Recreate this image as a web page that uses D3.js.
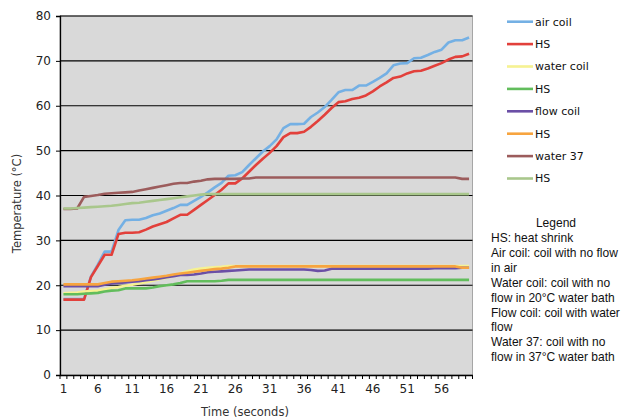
<!DOCTYPE html>
<html><head><meta charset="utf-8">
<script src="https://cdn.jsdelivr.net/npm/d3@7"></script>
<style>body{margin:0;background:#fff}svg{display:block}</style>
</head><body>
<svg id="c" width="627" height="420"></svg>
<script>
const time = d3.range(1, 61);
const tickLabels = [1, 6, 11, 16, 21, 26, 31, 36, 41, 46, 51, 56];
const yTicks = [0, 10, 20, 30, 40, 50, 60, 70, 80];
const seriesNames = ["air coil", "HS", "water coil", "HS", "flow coil", "HS", "water 37", "HS"];
const seriesColors = ["#74b0e4", "#e2403b", "#f6f292", "#62bd5c", "#6b4fa6", "#f7a43f", "#9c5c5c", "#a9c78c"];

const airCoil = [16.9,16.9,16.9,16.9,21.9,24.6,27.5,27.5,32.3,34.5,34.6,34.6,35.0,35.6,36.0,36.6,37.2,37.9,37.9,38.8,
  39.7,40.7,41.8,42.8,44.4,44.5,45.2,46.8,48.3,49.8,51.0,52.5,55.0,55.9,55.9,56.0,57.5,58.5,59.7,61.3,
  63.0,63.5,63.5,64.5,64.5,65.3,66.2,67.2,69.0,69.4,69.5,70.6,70.7,71.3,72.0,72.5,74.1,74.6,74.6,75.2];
const hsAir = [16.8,16.8,16.8,16.8,21.8,24.3,26.8,26.8,31.4,31.7,31.7,31.8,32.4,33.1,33.6,34.1,34.9,35.7,35.7,36.8,
  37.9,39.0,40.1,41.3,42.7,42.7,43.8,45.3,46.8,48.2,49.5,51.0,53.0,53.9,53.9,54.2,55.3,56.6,58.0,59.5,
  60.8,61.0,61.5,61.8,62.3,63.2,64.3,65.2,66.2,66.5,67.2,67.7,67.8,68.3,68.9,69.5,70.3,70.9,71.0,71.6];
const waterCoil = [18.2,18.3,18.4,18.6,18.7,18.8,19.1,19.4,19.6,19.9,20.1,20.4,20.7,21.0,21.4,21.7,22.1,22.6,23.1,23.5,
  23.7,23.9,24.0,24.1,24.3,24.3,24.3,24.3,24.3,24.3,24.3,24.3,24.3,24.3,24.3,24.3,24.3,24.3,24.3,24.3,
  24.3,24.3,24.3,24.3,24.3,24.3,24.3,24.3,24.3,24.3,24.3,24.3,24.3,24.3,24.3,24.3,24.3,24.3,24.3,24.3];
const hsWater = [18.0,18.0,18.0,18.1,18.2,18.3,18.6,18.8,18.9,19.3,19.3,19.3,19.3,19.5,19.8,20.0,20.2,20.5,20.9,20.9,
  20.9,20.9,20.9,21.0,21.2,21.2,21.2,21.2,21.2,21.2,21.2,21.2,21.2,21.2,21.2,21.2,21.2,21.2,21.2,21.2,
  21.2,21.2,21.2,21.2,21.2,21.2,21.2,21.2,21.2,21.2,21.2,21.2,21.2,21.2,21.2,21.2,21.2,21.2,21.2,21.2];
const flowCoil = [19.8,19.8,19.8,19.8,19.8,19.8,20.1,20.4,20.5,20.6,20.8,20.9,21.1,21.3,21.5,21.8,22.0,22.3,22.3,22.4,
  22.6,22.9,23.0,23.1,23.2,23.3,23.4,23.5,23.5,23.5,23.5,23.5,23.5,23.5,23.5,23.5,23.4,23.2,23.3,23.7,
  23.7,23.7,23.7,23.7,23.7,23.7,23.7,23.7,23.7,23.7,23.7,23.7,23.7,23.7,23.8,23.8,23.8,23.8,23.9,23.9];
const hsFlow = [20.2,20.2,20.2,20.2,20.2,20.2,20.5,20.8,20.9,21.0,21.1,21.3,21.5,21.7,21.9,22.1,22.4,22.6,22.8,23.0,
  23.2,23.4,23.6,23.7,23.9,24.2,24.2,24.2,24.2,24.2,24.2,24.2,24.2,24.2,24.2,24.2,24.2,24.2,24.2,24.2,
  24.2,24.2,24.2,24.2,24.2,24.2,24.2,24.2,24.2,24.2,24.2,24.2,24.2,24.2,24.2,24.2,24.2,24.2,23.9,23.9];
const water37 = [37.0,37.0,37.1,39.7,39.9,40.1,40.4,40.5,40.6,40.7,40.8,41.1,41.4,41.7,42.0,42.3,42.6,42.8,42.8,43.1,
  43.3,43.6,43.7,43.7,43.7,43.7,43.8,43.8,44.0,44.0,44.0,44.0,44.0,44.0,44.0,44.0,44.0,44.0,44.0,44.0,
  44.0,44.0,44.0,44.0,44.0,44.0,44.0,44.0,44.0,44.0,44.0,44.0,44.0,44.0,44.0,44.0,44.0,44.0,43.7,43.7];
const hs37 = [37.1,37.1,37.2,37.3,37.4,37.5,37.6,37.7,37.9,38.1,38.3,38.4,38.6,38.8,39.0,39.2,39.4,39.6,39.8,40.0,
  40.2,40.3,40.3,40.3,40.3,40.3,40.3,40.3,40.3,40.3,40.3,40.3,40.3,40.3,40.3,40.3,40.3,40.3,40.3,40.3,
  40.3,40.3,40.3,40.3,40.3,40.3,40.3,40.3,40.3,40.3,40.3,40.3,40.3,40.3,40.3,40.3,40.3,40.3,40.3,40.3];
const seriesValues = [airCoil, hsAir, waterCoil, hsWater, flowCoil, hsFlow, water37, hs37];

const notes = ["HS: heat shrink", "Air coil: coil with no flow", "in air", "Water coil: coil with no",
  "flow in 20°C water bath", "Flow coil: coil with water", "flow", "Water 37: coil with no", "flow in 37°C water bath"];

const svg = d3.select("#c");
const L = 60, R = 472.5, T = 16, B = 375;
const x = d3.scaleBand().domain(time).range([L, R]).paddingInner(0).paddingOuter(0);
const y = d3.scaleLinear().domain([0, 80]).range([B, T]);
const font = "DejaVu Sans, Verdana, sans-serif";

svg.append("rect").attr("x", L).attr("y", T).attr("width", R - L).attr("height", B - T)
  .attr("fill", "#d9d9d9").attr("stroke", "#a6a6a6").attr("stroke-width", 1);

// gridlines
svg.append("g").selectAll("line").data(yTicks.filter(d => d > 0)).join("line")
  .attr("x1", L).attr("x2", R).attr("y1", d => y(d)).attr("y2", d => y(d))
  .attr("stroke", "#000").attr("stroke-width", 1.2);

// y axis
const ya = svg.append("g").attr("transform", `translate(${L},0)`)
  .call(d3.axisLeft(y).tickValues(yTicks).tickSize(4).tickPadding(5));
ya.select(".domain").attr("stroke", "#000").attr("stroke-width", 1.3);
ya.selectAll("text").attr("font-family", font).attr("font-size", 12).attr("fill", "#222");

// x axis
const xa = svg.append("g").attr("transform", `translate(0,${B})`)
  .call(d3.axisBottom(x).tickValues(tickLabels).tickSize(0).tickPadding(9));
xa.select(".domain").attr("stroke", "#000").attr("stroke-width", 1.3);
xa.selectAll("text").attr("font-family", font).attr("font-size", 12).attr("fill", "#222");
svg.append("g").selectAll("line").data(time.concat([61])).join("line")
  .attr("x1", d => d <= 60 ? x(d) : x(60) + x.bandwidth()).attr("x2", d => d <= 60 ? x(d) : x(60) + x.bandwidth())
  .attr("y1", B).attr("y2", B + 4).attr("stroke", "#000").attr("stroke-width", 1);

// lines
const line = d3.line().x((d, i) => x(time[i]) + x.bandwidth() / 2).y(d => y(d));
svg.append("g").selectAll("path").data(seriesValues).join("path")
  .attr("d", d => line(d)).attr("fill", "none")
  .attr("stroke", (d, i) => seriesColors[i]).attr("stroke-width", 2.6)
  .attr("stroke-linejoin", "round");

// axis titles
svg.append("text").attr("transform", `translate(21,${(T + B) / 2 + 8}) rotate(-90)`)
  .attr("text-anchor", "middle").attr("font-family", font).attr("font-size", 11.5)
  .attr("fill", "#333").text("Temperature (°C)");
svg.append("text").attr("x", 245).attr("y", 416).attr("text-anchor", "middle")
  .attr("font-family", font).attr("font-size", 11.5).attr("fill", "#333").text("Time (seconds)");

// legend
const lg = svg.append("g").selectAll("g").data(seriesNames).join("g")
  .attr("transform", (d, i) => `translate(507,${21.7 + i * 22.4})`);
lg.append("line").attr("x1", 0).attr("x2", 26).attr("stroke", (d, i) => seriesColors[i]).attr("stroke-width", 2.6);
lg.append("text").attr("x", 28).attr("dy", "0.36em").attr("font-family", font).attr("font-size", 11)
  .attr("fill", "#111").text(d => d);

// notes: fit font size so the widest line spans ~128px
const nf = "Liberation Sans, Arial, sans-serif";
const ng = svg.append("g").attr("font-family", nf).attr("fill", "#111");
const nt = ng.selectAll("text").data(notes).join("text")
  .attr("x", 491).attr("y", (d, i) => 242 + i * 14.9)
  .attr("font-size", 13).text(d => d);
let maxW = 0;
nt.each(function () { maxW = Math.max(maxW, this.getComputedTextLength()); });
const fs = 13 * 129 / maxW;
nt.attr("font-size", fs);
ng.append("text").attr("x", 556).attr("y", 227).attr("text-anchor", "middle")
  .attr("font-size", fs).text("Legend");
</script>
</body></html>
